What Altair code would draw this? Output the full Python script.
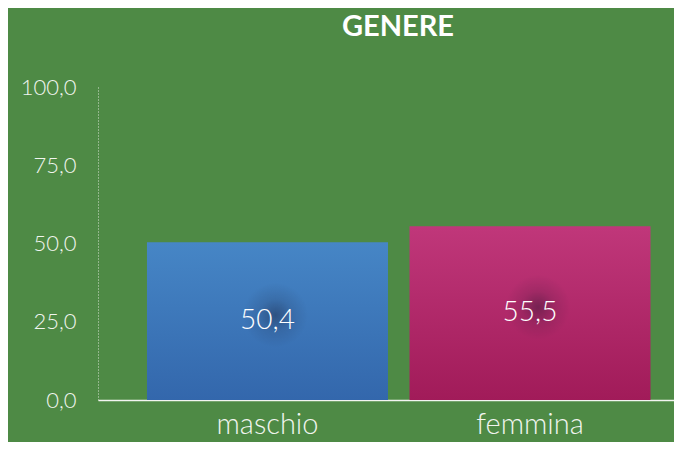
import altair as alt
import pandas as pd

categories = ["maschio", "femmina"]
values = [50.4, 55.5]
title_text = "GENERE"
y_ticks = [0, 25, 50, 75, 100]

df = pd.DataFrame({"cat": categories, "val": values})

BG = "#4e8a45"
FONT = "Lato"
TXT = "#f1f5ef"

x_scale = alt.Scale(paddingInner=0.082, paddingOuter=0.138, align=0.676)
y_scale = alt.Scale(domain=[0, 100], nice=False)

x_enc = alt.X(
    "cat:N",
    sort=categories,
    title=None,
    scale=x_scale,
    axis=alt.Axis(
        labelAngle=0,
        labelFontSize=29,
        labelColor=TXT,
        labelFont=FONT,
        labelFontWeight=300,
        labelPadding=10,
        ticks=False,
        domainColor="#f2f5f0",
        domainWidth=1.5,
    ),
)
y_enc = alt.Y(
    "val:Q",
    title=None,
    scale=y_scale,
    axis=alt.Axis(
        values=y_ticks,
        labelExpr="replace(format(datum.value, '.1f'), '.', ',')",
        labelFontSize=22,
        labelColor=TXT,
        labelFont=FONT,
        labelFontWeight=300,
        labelPadding=22,
        ticks=False,
        grid=False,
        domainColor="#d8e4d4",
        domainDash=[1, 2],
        domainWidth=1,
    ),
)

def grad(top, bottom):
    return alt.Gradient(
        gradient="linear",
        stops=[alt.GradientStop(color=top, offset=0), alt.GradientStop(color=bottom, offset=1)],
        x1=0, x2=0, y1=0, y2=1,
    )

base = alt.Chart(df)

bar_m = base.transform_filter(alt.datum.cat == "maschio").mark_bar(
    fill=grad("#4686c6", "#3367ac")
).encode(x=x_enc, y=y_enc)

bar_f = base.transform_filter(alt.datum.cat == "femmina").mark_bar(
    fill=grad("#c0377a", "#a11b59")
).encode(x=x_enc, y=y_enc)

lab_base = base.transform_calculate(
    half="datum.val / 2",
    lbl="replace(format(datum.val, '.1f'), '.', ',')",
)

glow = lab_base.mark_circle(
    size=4200,
    opacity=1,
    xOffset=8,
    yOffset=-6,
    fill=alt.Gradient(
        gradient="radial",
        stops=[
            alt.GradientStop(color="rgba(20,20,40,0.38)", offset=0),
            alt.GradientStop(color="rgba(20,20,40,0.12)", offset=0.5),
            alt.GradientStop(color="rgba(20,20,40,0)", offset=1),
        ],
        x1=0.5, y1=0.5, r1=0, x2=0.5, y2=0.5, r2=0.5,
    ),
).encode(
    x=alt.X("cat:N", sort=categories, scale=x_scale),
    y=alt.Y("half:Q", scale=y_scale),
)

labels = lab_base.mark_text(
    color="white", fontSize=28, font=FONT, fontWeight=300, baseline="middle", align="center"
).encode(
    x=alt.X("cat:N", sort=categories, scale=x_scale),
    y=alt.Y("half:Q", scale=y_scale),
    text="lbl:N",
)

title = alt.Chart(pd.DataFrame({"t": [title_text]})).mark_text(
    fontSize=29, font=FONT, fontWeight="bold", color="white",
    align="center", baseline="alphabetic",
).encode(
    text="t:N",
    x=alt.value(300),
    y=alt.value(-51),
)

chart = (
    alt.layer(bar_m, bar_f, glow, labels, title)
    .properties(
        width=576,
        height=313,
        background=BG,
        autosize=alt.AutoSizeParams(type="none"),
        padding={"left": 90, "top": 79, "right": 0, "bottom": 42},
    )
    .configure_view(stroke=None)
)

chart.save("out.html", embed_options={"renderer": "svg", "actions": False})
